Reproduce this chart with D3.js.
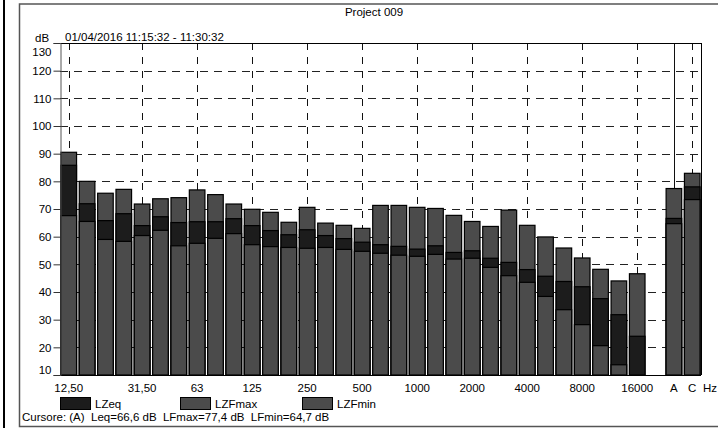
<!DOCTYPE html>
<html><head><meta charset="utf-8">
<script src="https://cdn.jsdelivr.net/npm/d3@7"></script>
<style>
html,body{margin:0;padding:0;background:#fff;}
svg{display:block;font-family:"Liberation Sans",Arial,sans-serif;}
</style></head>
<body>
<svg id="chart" width="718" height="428"></svg>
<script>
const categories = ["12,5","16","20","25","31,5","40","50","63","80","100","125","160","200","250","315","400","500","630","800","1000","1250","1600","2000","2500","3150","4000","5000","6300","8000","10000","12500","16000","20000","A","C"];
const lzfmax = [90.5,80.0,75.7,77.1,71.8,73.7,74.1,76.9,75.2,71.8,69.9,68.8,65.2,70.6,64.9,64.1,63.0,71.3,71.3,70.6,70.2,67.7,65.5,63.7,69.6,64.1,59.9,55.9,52.3,48.2,44.0,46.6,10,77.4,82.9];
const lzeq   = [85.8,71.9,65.8,68.3,64.0,67.2,65.1,65.4,65.4,66.5,64.0,62.2,60.7,62.5,60.4,59.3,58.0,57.1,56.5,55.5,56.7,54.3,54.9,52.2,50.7,48.1,45.7,43.8,41.9,37.6,31.8,24.0,10,66.6,78.0];
const lzfmin = [67.6,65.5,59.0,58.3,60.4,62.3,56.7,57.6,59.4,61.1,57.1,56.4,56.1,55.8,56.1,55.4,54.7,54.0,53.3,52.9,53.6,51.9,52.2,48.9,45.9,43.5,38.4,33.6,28.2,20.6,13.7,10,10,64.7,73.4];
const xTickCats   = ["12,5","31,5","63","125","250","500","1000","2000","4000","8000","16000","A","C"];
const xTickLabels = ["12,50","31,50","63","125","250","500","1000","2000","4000","8000","16000","A","C"];
const yTicks = [10,20,30,40,50,60,70,80,90,100,110,120,130];
const title = "Project 009";
const period = "01/04/2016 11:15:32 - 11:30:32";
const legendNames = ["LZeq","LZFmax","LZFmin"];
const cursorText = "Cursore: (A)  Leq=66,6 dB  LFmax=77,4 dB  LFmin=64,7 dB";

const svg = d3.select("#chart");
const L = 60, R = 701, T = 43, B = 375;
const GRAY = "#4b4b4b", DARK = "#1c1c1c";
const FS = 11.5;

// outer frame
svg.append("rect").attr("x",3).attr("y",0).attr("width",2).attr("height",428).attr("fill","#000");
svg.append("rect").attr("x",19.5).attr("y",4).attr("width",720).attr("height",422.5)
  .attr("fill","none").attr("stroke","#555").attr("stroke-width",1.5);

const x = d3.scaleBand().domain(categories).range([59.5,701.5]).paddingInner(0.15).paddingOuter(0.08);
const y = d3.scaleLinear().domain([10,130]).range([B,T]);
const bw = x.bandwidth();

// horizontal grid
svg.append("g").selectAll("line").data(yTicks.filter(v=>v>10 && v<130)).join("line")
  .attr("x1",L).attr("x2",R).attr("y1",d=>Math.round(y(d))+0.5).attr("y2",d=>Math.round(y(d))+0.5)
  .attr("stroke","#222").attr("stroke-width",1).attr("stroke-dasharray","8,6");
// vertical grid
svg.append("g").selectAll("line").data(xTickCats).join("line")
  .attr("x1",d=>Math.round(x(d)+bw/2)+0.5).attr("x2",d=>Math.round(x(d)+bw/2)+0.5)
  .attr("y1",T).attr("y2",B)
  .attr("stroke","#111").attr("stroke-width",1)
  .attr("stroke-dasharray",d=>d==="A"?null:"7,7");

// bars
const idx = d3.range(categories.length);
function bars(vals, fill){
  svg.append("g").selectAll("rect").data(idx).join("rect")
    .attr("x",i=>x(categories[i])).attr("width",bw)
    .attr("y",i=>y(Math.max(10,vals[i]))).attr("height",i=>y(10)-y(Math.max(10,vals[i])))
    .attr("fill",fill).attr("stroke","#000").attr("stroke-width",1.2);
}
bars(lzfmax, GRAY);
bars(lzeq, DARK);
bars(lzfmin, GRAY);

// frame of plot
svg.append("line").attr("x1",L).attr("x2",R+0.5).attr("y1",T+0.5).attr("y2",T+0.5).attr("stroke","#000");
svg.append("line").attr("x1",R+0.5).attr("x2",R+0.5).attr("y1",T).attr("y2",B).attr("stroke","#000");
svg.append("line").attr("x1",L).attr("x2",R).attr("y1",B+0.5).attr("y2",B+0.5).attr("stroke","#000");

// y axis
const yAxis = d3.axisLeft(y).tickValues(yTicks).tickSize(7).tickPadding(2).tickFormat(d3.format("d"));
const gy = svg.append("g").attr("transform",`translate(${L+0.5},0)`).call(yAxis);
gy.select(".domain").attr("stroke","#555");
gy.selectAll(".tick line").attr("stroke","#333");
gy.selectAll("text").attr("font-size",FS).attr("fill","#000").attr("font-family","Liberation Sans, Arial, sans-serif");
gy.selectAll(".tick").filter(d=>d===10).select("text").attr("dy","-0.15em");
gy.selectAll(".tick").filter(d=>d===130).select("text").attr("dy","1.05em");

// x axis labels
const gx = svg.append("g");
gx.selectAll("text").data(xTickCats).join("text")
  .attr("x",d=>x(d)+bw/2).attr("y",392).attr("text-anchor","middle")
  .attr("font-size",FS).text((d,i)=>xTickLabels[i]);
gx.append("text").attr("x",703).attr("y",392).attr("font-size",FS).text("Hz");

// texts
svg.append("text").attr("x",374).attr("y",16).attr("text-anchor","middle").attr("font-size",FS).text(title);
svg.append("text").attr("x",35).attr("y",41.5).attr("font-size",FS).text("dB");
svg.append("text").attr("x",65).attr("y",41).attr("font-size",FS).text(period);

// legend
const legX = [60,180,302];
const legC = [DARK,GRAY,GRAY];
const lg = svg.append("g");
legendNames.forEach((n,i)=>{
  lg.append("rect").attr("x",legX[i]+0.5).attr("y",397.5).attr("width",30).attr("height",12)
    .attr("fill",legC[i]).attr("stroke","#000").attr("stroke-width",1);
  lg.append("text").attr("x",legX[i]+35).attr("y",407.5).attr("font-size",FS).text(n);
});
svg.append("text").attr("x",22).attr("y",421).attr("font-size",FS).attr("xml:space","preserve")
  .style("white-space","pre").text(cursorText);
</script>
</body></html>
